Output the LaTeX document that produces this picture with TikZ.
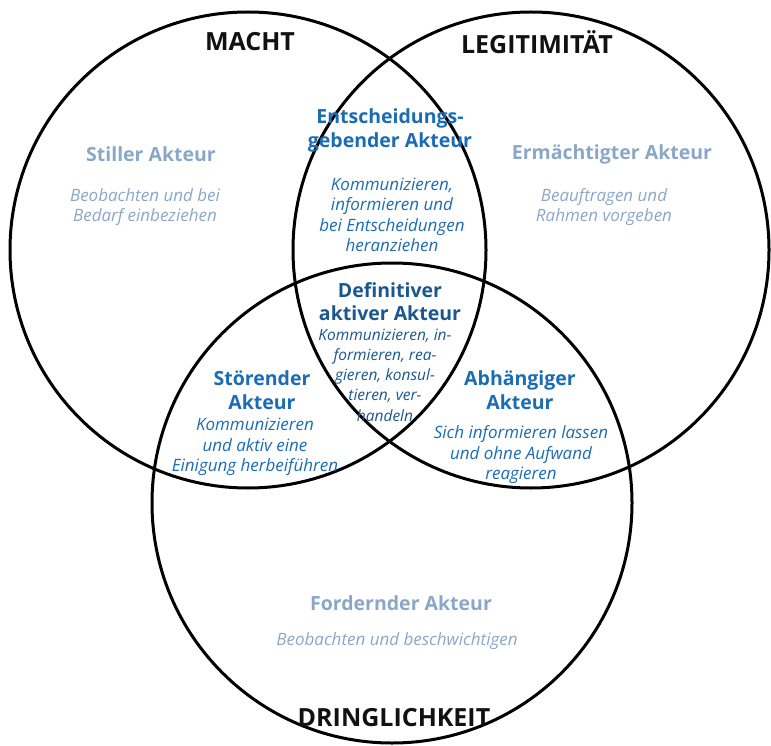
\documentclass[tikz,border=0pt]{standalone}
\usepackage{fontspec}
\setmainfont{Open Sans}
\definecolor{titleblack}{HTML}{111111}
\definecolor{midblue}{HTML}{1B6CB4}
\definecolor{darkblue}{HTML}{1A5790}
\definecolor{paleblue}{HTML}{8AA7C8}
\tikzset{
  ring/.style={draw=black, line width=3pt},
  settitle/.style={font=\fontsize{25}{28}\selectfont\bfseries, text=titleblack, inner sep=0pt},
  headpale/.style={font=\fontsize{19.5}{24}\selectfont\bfseries, text=paleblue, align=center, inner sep=0pt},
  headblue/.style={font=\fontsize{19.5}{24}\selectfont\bfseries, text=midblue, align=center, inner sep=0pt},
  headdark/.style={font=\fontsize{19.5}{23}\selectfont\bfseries, text=darkblue, align=center, inner sep=0pt},
  descpale/.style={font=\fontsize{17}{20.5}\selectfont\itshape, text=paleblue, align=center, inner sep=0pt},
  descblue/.style={font=\fontsize{17}{20.5}\selectfont\itshape, text=midblue, align=center, inner sep=0pt},
  descdark/.style={font=\fontsize{15.5}{20.3}\selectfont\itshape, text=darkblue, align=center, inner sep=0pt},
}
\begin{document}
\begin{tikzpicture}[x=1pt,y=-1pt]
\useasboundingbox (0,0) rectangle (771,746);
% circles
\draw[ring] (248,250) circle[radius=238];
\draw[ring] (531,250) circle[radius=238];
\draw[ring] (392,503) circle[radius=240];
% set titles
\node[settitle] (macht) at (250,42) {MACHT};
\node[settitle] (legit) at (537,42) {LEGITIMITÄT};
\node[settitle] (dring) at (394,718) {DRINGLICHKEIT};
% Stiller
\node[headpale] (still) at (151,154) {Stiller Akteur};
\node[descpale] (stilld) at (145,207) {Beobachten und bei\\Bedarf einbeziehen};
% Ermaechtigter
\node[headpale] (erm) at (612,154) {Ermächtigter Akteur};
\node[descpale] (ermd) at (604,207) {Beauftragen und\\Rahmen vorgeben};
% Fordernder
\node[headpale] (ford) at (401,603) {Fordernder Akteur};
\node[descpale] (fordd) at (397,641) {Beobachten und beschwichtigen};
% Entscheidungsgebender
\node[headblue] (ent) at (390,130) {Entscheidungs-\\gebender Akteur};
\node[descblue] (entd) at (392,215) {Kommunizieren,\\informieren und\\bei Entscheidungen\\heranziehen};
% Stoerender
\node[headblue] (stoer) at (262,390) {Störender\\Akteur};
\node[descblue] (stoerd) at (255,447) {Kommunizieren\\und aktiv eine\\Einigung herbeiführen};
% Abhaengiger
\node[headblue] (abh) at (520,390) {Abhängiger\\Akteur};
\node[descblue] (abhd) at (521,455) {Sich informieren lassen\\und ohne Aufwand\\reagieren};
% Definitiver
\node[headdark] (defi) at (390,302) {Definitiver\\aktiver Akteur};
\node[descdark] (defid) at (385,375) {Kommunizieren, in-\\formieren, rea-\\gieren, konsul-\\tieren, ver-\\handeln};
\end{tikzpicture}
\end{document}
